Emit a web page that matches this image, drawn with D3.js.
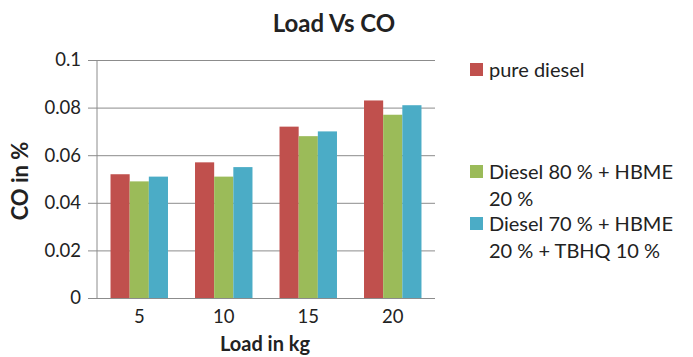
<!DOCTYPE html>
<html>
<head>
<meta charset="utf-8">
<script src="https://cdn.jsdelivr.net/npm/d3@7/dist/d3.min.js"></script>
<style>
body { margin: 0; background: #fff; }
text { font-family: Lato, "Open Sans", sans-serif; fill: #222; }
</style>
</head>
<body>
<div id="chart"></div>
<script>
const loads = ['5', '10', '15', '20'];
const seriesNames = ['pure diesel', 'Diesel 80 % + HBME 20 %', 'Diesel 70 % + HBME 20 % + TBHQ 10 %'];
const pureDiesel = [0.052, 0.057, 0.072, 0.083];
const hbme20 = [0.049, 0.051, 0.068, 0.077];
const hbmeTbhq = [0.051, 0.055, 0.070, 0.081];
const yTicks = [0, 0.02, 0.04, 0.06, 0.08, 0.1];
const colors = ['#c0504d', '#9bbb59', '#4bacc6'];

const series = [pureDiesel, hbme20, hbmeTbhq];
const W = 693, H = 357;
const margin = {t: 60, l: 97, r: 258, b: 59};
const w = W - margin.l - margin.r;
const h = H - margin.t - margin.b;

const svg = d3.select('#chart').append('svg')
	.attr('width', W).attr('height', H);

const plot = svg.append('g')
	.attr('transform', `translate(${margin.l}, ${margin.t})`);

const scaleX = d3.scaleBand().domain(loads).range([0, w]).paddingInner(0.32).paddingOuter(0.16);
const scaleSub = d3.scaleBand().domain(d3.range(series.length)).range([0, scaleX.bandwidth()]);
const scaleY = d3.scaleLinear().domain([0, 0.1]).range([h, 0]);

//gridlines + y axis
const axisY = d3.axisLeft(scaleY)
	.tickValues(yTicks)
	.tickFormat(function(d){ return d === 0 ? '0' : String(+d.toFixed(2)) })
	.tickSize(-w)
	.tickPadding(16);

const gy = plot.append('g').attr('class', 'axis axis-y').call(axisY);
gy.select('.domain').remove();
gy.selectAll('line').style('stroke', '#8c8c8c').attr('x1', -9);
gy.selectAll('text').style('font-size', '18.5px').style('fill', '#222');

plot.append('line')
	.attr('x1', 0).attr('x2', 0).attr('y1', 0).attr('y2', h)
	.style('stroke', '#8c8c8c');

//bars
const groups = plot.selectAll('.group')
	.data(loads)
	.enter().append('g')
	.attr('class', 'group')
	.attr('transform', function(d){ return `translate(${scaleX(d)}, 0)` });

groups.selectAll('rect')
	.data(function(d, i){ return series.map(function(s, k){ return {k: k, value: s[i]} }) })
	.enter().append('rect')
	.attr('x', function(d){ return scaleSub(d.k) })
	.attr('width', scaleSub.bandwidth())
	.attr('y', function(d){ return scaleY(d.value) })
	.attr('height', function(d){ return h - scaleY(d.value) })
	.style('fill', function(d){ return colors[d.k] });

//x axis
const axisX = d3.axisBottom(scaleX).tickSize(0).tickPadding(12);
const gx = plot.append('g').attr('class', 'axis axis-x')
	.attr('transform', `translate(0, ${h})`)
	.call(axisX);
gx.select('.domain').remove();
gx.selectAll('text').style('font-size', '18.5px').style('fill', '#222');

//titles
svg.append('text')
	.attr('x', 334).attr('y', 32)
	.attr('text-anchor', 'middle')
	.style('font-size', '24px').style('font-weight', 'bold')
	.text('Load Vs CO');

svg.append('text')
	.attr('x', margin.l + w / 2 - 1).attr('y', 351)
	.attr('text-anchor', 'middle')
	.style('font-size', '20px').style('font-weight', 'bold')
	.text('Load in kg');

svg.append('text')
	.attr('transform', `translate(28, ${margin.t + h / 2 + 2}) rotate(-90)`)
	.attr('text-anchor', 'middle')
	.style('font-size', '22px').style('font-weight', 'bold')
	.text('CO in %');

//legend
const legendLines = [['pure diesel'], ['Diesel 80 % + HBME', '20 %'], ['Diesel 70 % + HBME', '20 % + TBHQ 10 %']];
const legendY = [70, 172, 224];
const legend = svg.selectAll('.legend')
	.data(seriesNames)
	.enter().append('g')
	.attr('class', 'legend')
	.attr('transform', function(d, i){ return `translate(470, ${legendY[i]})` });

legend.append('rect')
	.attr('x', 0).attr('y', -7).attr('width', 13).attr('height', 13)
	.style('fill', function(d, i){ return colors[i] });

legend.append('text')
	.style('font-size', '20px')
	.selectAll('tspan')
	.data(function(d, i){ return legendLines[i] })
	.enter().append('tspan')
	.attr('x', 19)
	.attr('y', function(d, j){ return j * 27 })
	.attr('dy', '0.35em')
	.text(function(d){ return d });
</script>
</body>
</html>
